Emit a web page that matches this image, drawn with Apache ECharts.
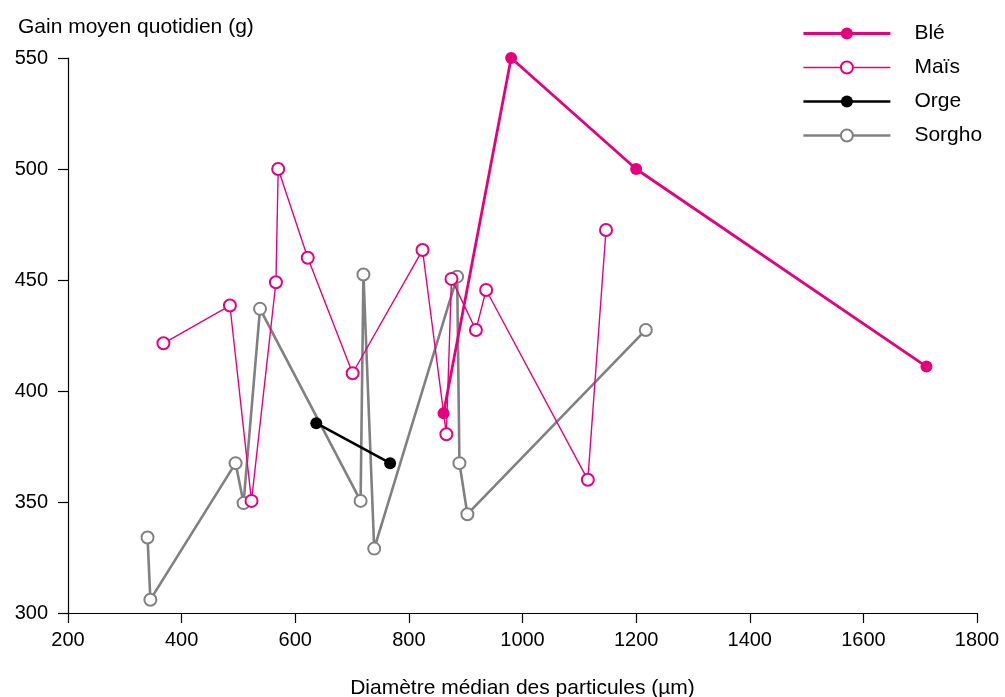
<!DOCTYPE html>
<html>
<head>
<meta charset="utf-8">
<script src="https://cdn.jsdelivr.net/npm/echarts@6/dist/echarts.min.js"></script>
<style>
  html, body { margin: 0; padding: 0; background: #fff; }
  #chart { width: 1005px; height: 697px; }
</style>
</head>
<body>
<div id="chart"></div>
<script>
// valeurs : [diamètre (µm), gain (g)]
const ble = [[861, 390], [980, 550], [1200, 500], [1711, 411]];
const mais = [
  [368, 421.5], [485, 438.5], [523, 350.5], [566, 449], [570, 500],
  [622, 460], [701, 408], [824, 463.5], [866, 380.5], [875, 450.5],
  [918, 427.5], [936, 445.5], [1115, 360], [1147, 472.5]
];
const orge = [[637, 385.5], [767, 367.5]];
const sorgho = [
  [340, 334], [345, 306], [495, 367.5], [509, 349.5], [538, 437],
  [715, 350.5], [720, 452.5], [739, 329], [885, 451.5], [889, 367.5],
  [903, 344.5], [1217, 427.5]
];
const xTicks = { min: 200, max: 1800, step: 200 };
const yTicks = { min: 300, max: 550, step: 50 };

const PINK = '#e6007e';
const GREY = '#808080';
const FONT = 'Liberation Sans, Arial, sans-serif';

const chart = echarts.init(document.getElementById('chart'));

// style commun des axes
const axisCommon = {
  axisLine: { show: true, lineStyle: { color: '#000', width: 1.2 } },
  axisTick: { show: true, length: 10, lineStyle: { color: '#000', width: 1.2 } },
  splitLine: { show: false },
};

chart.setOption({
  animation: false,
  backgroundColor: '#fff',
  textStyle: { fontFamily: FONT },
  title: {
    text: 'Gain moyen quotidien (g)',
    left: 13,
    top: 12,
    textStyle: { fontSize: 21, fontWeight: 'normal', color: '#000', fontFamily: FONT },
  },
  legend: {
    orient: 'vertical',
    left: 797,
    top: 18,
    itemWidth: 87,
    itemHeight: 15,
    itemGap: 13,
    data: [
      { name: 'Blé', lineStyle: { width: 2.8 } },
      { name: 'Maïs', lineStyle: { width: 1.4 } },
      { name: 'Orge', lineStyle: { width: 2.6 } },
      { name: 'Sorgho', lineStyle: { width: 2.6 } },
    ],
    textStyle: { fontSize: 21, color: '#000', padding: [0, 0, 0, 19], fontFamily: FONT },
  },
  grid: { left: 68, right: 28, top: 58, bottom: 84, outerBoundsMode: 'none' },
  xAxis: Object.assign({
    type: 'value',
    min: xTicks.min,
    max: xTicks.max,
    interval: xTicks.step,
    name: 'Diamètre médian des particules (µm)',
    nameLocation: 'middle',
    nameGap: 65,
    nameTextStyle: { fontSize: 21, color: '#000', fontFamily: FONT },
    axisLabel: { margin: 17, fontSize: 20, color: '#000', fontFamily: FONT, formatter: v => String(v) },
  }, axisCommon),
  yAxis: Object.assign({
    type: 'value',
    min: yTicks.min,
    max: yTicks.max,
    interval: yTicks.step,
    axisLabel: { margin: 20, fontSize: 20, color: '#000', fontFamily: FONT, formatter: v => String(v) },
  }, axisCommon),
  series: [
    {
      name: 'Sorgho',
      type: 'line',
      data: sorgho,
      symbol: 'emptyCircle',
      symbolSize: 12,
      color: GREY,
      lineStyle: { color: GREY, width: 2.6 },
      itemStyle: { color: GREY, borderWidth: 1.3 },
      z: 2,
    },
    {
      name: 'Orge',
      type: 'line',
      data: orge,
      symbol: 'circle',
      symbolSize: 12,
      color: '#000',
      lineStyle: { color: '#000', width: 2.6 },
      itemStyle: { color: '#000' },
      z: 3,
    },
    {
      name: 'Maïs',
      type: 'line',
      data: mais,
      symbol: 'emptyCircle',
      symbolSize: 12,
      color: PINK,
      lineStyle: { color: PINK, width: 1.4 },
      itemStyle: { color: PINK, borderWidth: 1.4 },
      z: 4,
    },
    {
      name: 'Blé',
      type: 'line',
      data: ble,
      symbol: 'circle',
      symbolSize: 12,
      color: PINK,
      lineStyle: { color: PINK, width: 2.8 },
      itemStyle: { color: PINK },
      z: 5,
    },
  ],
});
</script>
</body>
</html>
